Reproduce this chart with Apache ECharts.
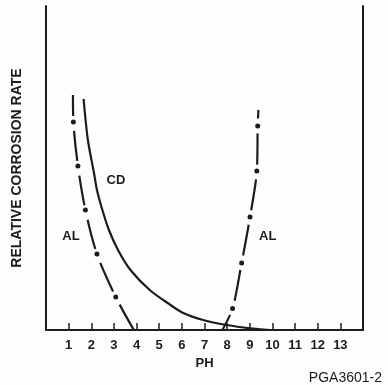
<!DOCTYPE html>
<html>
<head>
<meta charset="utf-8">
<script src="https://cdn.jsdelivr.net/npm/echarts@6/dist/echarts.min.js"></script>
<style>
  html, body { margin: 0; padding: 0; background: #fdfdfd; }
  #chart { width: 388px; height: 385px; }
</style>
</head>
<body>
<div id="chart"></div>
<script>
// pH on x, relative corrosion rate (arbitrary units) on y
const cdPh   = [1.66, 1.85, 2.12, 2.25, 2.49, 2.78, 3.18, 3.73, 4.58, 5.5, 6.06, 6.94, 7.98, 9.01, 9.89];
const cdRate = [231, 190, 157, 140, 120, 100, 80, 60, 40, 25, 17, 10, 5, 1.7, 0];

// aluminium, acid side (first and last point are line ends, the rest carry dots)
const alAcidPh   = [1.19, 1.21, 1.41, 1.74, 2.25, 3.08, 3.88];
const alAcidRate = [235, 208, 164, 120, 76, 33, 0];

// aluminium, alkaline side
const alBasePh   = [7.79, 8.24, 8.64, 9.01, 9.31, 9.35, 9.38];
const alBaseRate = [0, 21.5, 67, 113, 159, 204, 220];

// curve labels [pH, rate]
const cdLabel = [3.09, 150];
const alAcidLabel = [1.10, 94];
const alBaseLabel = [9.79, 94];

const ink = '#1c1c1c';
const boldFont = 'Liberation Sans';

function dotted(xs, ys) {
  return xs.map((x, i) => ({
    value: [x, ys[i]],
    symbol: (i === 0 || i === xs.length - 1) ? 'none' : 'circle'
  }));
}

function textMark(coord, text) {
  return {
    symbol: 'rect',
    symbolSize: 1,
    silent: true,
    itemStyle: { color: 'rgba(0,0,0,0)' },
    data: [{ coord: coord }],
    label: {
      show: true,
      position: 'inside',
      formatter: text,
      color: ink,
      fontFamily: boldFont,
      fontWeight: 'bold',
      fontSize: 13
    }
  };
}

const chart = echarts.init(document.getElementById('chart'));

const option = {
  backgroundColor: '#fdfdfd',
  animation: false,
  grid: { left: 46, right: 25, top: 6, bottom: 55 },
  xAxis: {
    type: 'value',
    min: 0,
    max: 14,
    interval: 1,
    name: 'PH',
    nameLocation: 'middle',
    nameGap: 26,
    nameTextStyle: { color: ink, fontFamily: boldFont, fontWeight: 'bold', fontSize: 13 },
    axisLine: { show: true, lineStyle: { color: ink, width: 2 } },
    axisTick: { show: true, inside: true, length: 7, lineStyle: { color: ink, width: 1.5 } },
    axisLabel: {
      showMinLabel: false,
      showMaxLabel: false,
      margin: 9,
      color: ink,
      fontFamily: boldFont,
      fontWeight: 'bold',
      fontSize: 13
    },
    splitLine: { show: false }
  },
  yAxis: [
    {
      type: 'value',
      min: 0,
      max: 324,
      name: 'RELATIVE CORROSION RATE',
      nameLocation: 'middle',
      nameGap: 22,
      nameTextStyle: { color: ink, fontFamily: boldFont, fontWeight: 'bold', fontSize: 14 },
      axisLine: { show: true, lineStyle: { color: ink, width: 2 } },
      axisTick: { show: false },
      axisLabel: { show: false },
      splitLine: { show: false }
    },
    {
      type: 'value',
      position: 'right',
      min: 0,
      max: 324,
      axisLine: { show: true, lineStyle: { color: ink, width: 2 } },
      axisTick: { show: false },
      axisLabel: { show: false },
      splitLine: { show: false }
    }
  ],
  series: [
    {
      name: 'CD',
      type: 'line',
      data: cdPh.map((x, i) => [x, cdRate[i]]),
      smooth: 0.3,
      showSymbol: false,
      lineStyle: { color: ink, width: 2.2 },
      markPoint: textMark(cdLabel, 'CD')
    },
    {
      name: 'AL acid',
      type: 'line',
      data: dotted(alAcidPh, alAcidRate),
      smooth: 0.3,
      symbolSize: 5,
      itemStyle: { color: ink },
      // dash gaps sit around the dots
      lineStyle: { color: ink, width: 2.2, type: [21, 15, 30, 15, 30, 15, 30, 15, 31, 15, 60] },
      markPoint: textMark(alAcidLabel, 'AL')
    },
    {
      name: 'AL base',
      type: 'line',
      data: dotted(alBasePh, alBaseRate),
      smooth: 0.3,
      symbolSize: 5,
      itemStyle: { color: ink },
      lineStyle: { color: ink, width: 2.2, type: [17, 15, 31, 15, 31, 15, 31, 15, 31, 15, 40] },
      markPoint: textMark(alBaseLabel, 'AL')
    }
  ],
  graphic: [
    {
      type: 'text',
      right: 6,
      top: 371,
      style: {
        text: 'PGA3601-2',
        fill: ink,
        font: '14px "Liberation Sans"'
      }
    }
  ]
};

chart.setOption(option);
</script>
</body>
</html>
